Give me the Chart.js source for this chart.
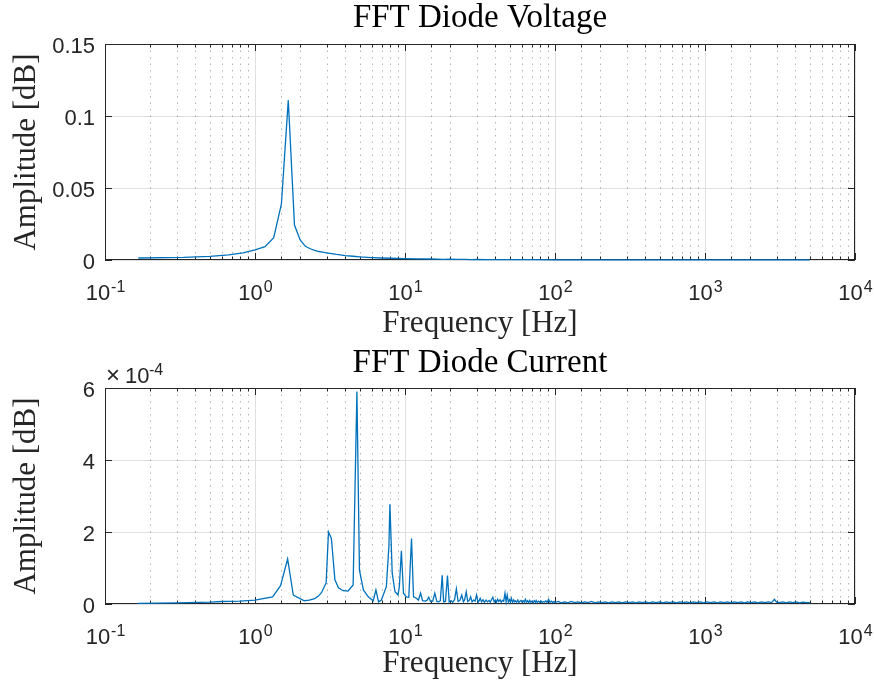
<!DOCTYPE html>
<html>
<head>
<meta charset="utf-8">
<script src="https://cdn.jsdelivr.net/npm/chart.js@4.4.1/dist/chart.umd.min.js"></script>
<style>
  html, body { margin: 0; padding: 0; background: #fff; }
  #wrap { position: relative; width: 874px; height: 687px; }
  canvas { position: absolute; left: 0; }
</style>
</head>
<body>
<div id="wrap">
  <canvas id="chartVoltage" width="874" height="345" style="top:0"></canvas>
  <canvas id="chartCurrent" width="874" height="342" style="top:345px"></canvas>
</div>
<script>
// FFT of the diode voltage (Hz / amplitude)
const freqV = [0.1667, 0.3333, 0.5, 0.6667, 0.8333, 1.0, 1.1667, 1.3333, 1.5, 1.6667,
  1.8333, 2.0, 2.1667, 2.3333, 2.5, 2.6667, 2.8333, 3.0, 3.5, 4.0,
  4.5, 5.0, 6.0, 7.0, 8.0, 10, 12, 15, 18, 20,
  22, 25, 28, 30, 35, 40, 50, 70, 100, 200,
  500, 1000, 2000, 5000];
const ampV = [0.0014, 0.0018, 0.0025, 0.0035, 0.0050, 0.0071, 0.0093, 0.0155, 0.0389, 0.1110,
  0.0243, 0.0139, 0.0095, 0.0078, 0.0067, 0.0059, 0.0054, 0.0050, 0.0039, 0.0031,
  0.0026, 0.0022, 0.0017, 0.0014, 0.0012, 0.0009, 0.0008, 0.0007, 0.0005, 0.0006,
  0.0004, 0.0005, 0.0003, 0.0004, 0.0003, 0.0003, 0.00025, 0.0002, 0.00015, 0.0001,
  0.00007, 0.00005, 0.00004, 0.00003];

// FFT of the diode current, amplitude in units of 1e-4
const freqI = [0.165, 0.30, 0.50, 0.60, 0.79, 1.0, 1.31, 1.48, 1.65, 1.80,
  2.13, 2.30, 2.50, 2.65, 2.78, 2.98, 3.09, 3.23, 3.41, 3.60,
  3.87, 4.17, 4.51, 4.78, 4.97, 5.28, 5.69, 6.14, 6.40, 6.66,
  6.96, 7.51, 7.81, 7.93, 8.22, 8.58, 8.98, 9.17, 9.46, 9.77,
  10.2, 10.6, 11.05, 11.4, 11.9, 12.3, 12.7, 13.1, 13.6, 14.0,
  14.4, 14.8, 15.3, 15.8, 16.3, 16.8, 17.2, 17.7, 18.1, 18.6,
  19.2, 19.7, 20.3, 20.8, 21.4, 22.0, 22.6, 23.2, 23.9, 24.5,
  25.0, 25.6, 26.2, 26.8, 27.4, 28.0, 28.6, 29.3, 30.0, 30.7,
  31.3, 31.7, 32.4, 33.1, 33.8, 34.7, 35.5, 36.3, 37.0, 37.7,
  38.5, 39.3, 40.1, 40.7, 41.4, 42.2, 43.0, 43.8, 44.6, 45.5,
  46.4, 47.2, 48.0, 48.9, 49.8, 50.5, 51.2, 52.1, 53.0, 53.7,
  54.5, 55.5, 56.5, 57.4, 58.4, 59.4, 60.4, 61.4, 62.4, 63.4,
  64.5, 65.6, 66.7, 67.8, 69.0, 70.2, 71.5, 72.8, 74.0, 74.9,
  76.2, 77.5, 79.0, 80.5, 82.0, 83.5, 85.0, 86.8, 88.5, 90.7,
  92.5, 94.5, 96.5, 98.5, 100, 105, 110, 116, 122, 128,
  135, 142, 150, 158, 166, 175, 185, 195, 205, 216,
  228, 240, 253, 266, 280, 295, 311, 328, 345, 364,
  383, 404, 425, 448, 472, 497, 524, 552, 581, 612,
  645, 680, 716, 754, 795, 837, 882, 929, 979, 1030,
  1090, 1150, 1210, 1270, 1340, 1410, 1490, 1570, 1650, 1740,
  1830, 1930, 2030, 2140, 2260, 2380, 2500, 2640, 2780, 2900,
  3000, 3130, 3300, 3470, 3660, 3850, 4060, 4270, 4500, 4750,
  5000];
const ampI = [0.02, 0.03, 0.05, 0.07, 0.08, 0.11, 0.20, 0.51, 1.25, 0.25,
  0.09, 0.11, 0.15, 0.22, 0.32, 0.59, 2.00, 1.82, 0.67, 0.45,
  0.37, 0.36, 0.53, 5.90, 0.94, 0.39, 0.20, 0.09, 0.39, 0.06,
  0.11, 0.48, 1.60, 2.77, 0.85, 0.34, 0.25, 0.48, 1.48, 0.30,
  0.20, 0.19, 1.82, 0.20, 0.16, 0.11, 0.30, 0.09, 0.08, 0.10,
  0.19, 0.07, 0.08, 0.30, 0.07, 0.06, 0.09, 0.80, 0.06, 0.07,
  0.79, 0.06, 0.09, 0.05, 0.12, 0.42, 0.07, 0.10, 0.25, 0.06,
  0.12, 0.34, 0.07, 0.10, 0.20, 0.06, 0.11, 0.08, 0.25, 0.05,
  0.10, 0.16, 0.06, 0.12, 0.05, 0.11, 0.06, 0.10, 0.05, 0.12,
  0.19, 0.06, 0.11, 0.05, 0.13, 0.07, 0.12, 0.05, 0.10, 0.08,
  0.30, 0.06, 0.25, 0.05, 0.12, 0.06, 0.16, 0.05, 0.11, 0.06,
  0.09, 0.05, 0.11, 0.04, 0.08, 0.10, 0.05, 0.09, 0.05, 0.13,
  0.05, 0.09, 0.04, 0.10, 0.05, 0.08, 0.04, 0.09, 0.05, 0.10,
  0.04, 0.08, 0.05, 0.09, 0.04, 0.07, 0.05, 0.09, 0.04, 0.13,
  0.05, 0.08, 0.04, 0.07, 0.04, 0.07, 0.03, 0.06, 0.03, 0.07,
  0.04, 0.06, 0.03, 0.06, 0.04, 0.07, 0.03, 0.06, 0.04, 0.06,
  0.03, 0.06, 0.04, 0.06, 0.03, 0.06, 0.04, 0.06, 0.03, 0.06,
  0.04, 0.06, 0.03, 0.06, 0.04, 0.06, 0.03, 0.06, 0.04, 0.06,
  0.03, 0.06, 0.04, 0.06, 0.03, 0.06, 0.04, 0.06, 0.03, 0.06,
  0.04, 0.06, 0.03, 0.06, 0.04, 0.06, 0.03, 0.06, 0.04, 0.06,
  0.03, 0.06, 0.04, 0.06, 0.03, 0.06, 0.04, 0.06, 0.04, 0.13,
  0.05, 0.04, 0.06, 0.03, 0.06, 0.04, 0.06, 0.03, 0.05, 0.04,
  0.04];

const yTicksV = [0, 0.05, 0.1, 0.15];
const yTicksI = [0, 2, 4, 6];
const xDecades = [-1, 0, 1, 2, 3, 4];

const AXIS = '#262626';
const LINE = '#0072BD';
const serif = "'Liberation Serif', 'DejaVu Serif', serif";
const sans = "'Liberation Sans', Arial, sans-serif";

function isDecade(v) {
  let l = Math.log10(v);
  return Math.abs(l - Math.round(l)) < 1e-6;
}

// matlab style box, inward ticks, dotted minor grid, 10^n labels
const matlabAxes = {
  id: 'matlabAxes',
  beforeDatasetsDraw(chart) {
    let ctx = chart.ctx, a = chart.chartArea, x = chart.scales.x, y = chart.scales.y;
    ctx.save();
    ctx.lineWidth = 1;
    ctx.strokeStyle = 'rgba(38,38,38,0.35)';
    ctx.setLineDash([1.5, 5]);
    x.ticks.forEach(t => {
      if (isDecade(t.value)) return;
      let px = Math.round(x.getPixelForValue(t.value)) + 0.5;
      ctx.beginPath();
      ctx.moveTo(px, a.bottom);
      ctx.lineTo(px, a.top);
      ctx.stroke();
    });
    ctx.setLineDash([]);
    ctx.strokeStyle = AXIS;
    ctx.strokeRect(a.left + 0.5, a.top + 0.5, a.right - a.left - 1, a.bottom - a.top - 1);
    ctx.beginPath();
    x.ticks.forEach(t => {
      let px = Math.round(x.getPixelForValue(t.value)) + 0.5;
      let len = isDecade(t.value) ? 7 : 3.5;
      ctx.moveTo(px, a.bottom); ctx.lineTo(px, a.bottom - len);
      ctx.moveTo(px, a.top); ctx.lineTo(px, a.top + len);
    });
    y.ticks.forEach(t => {
      let py = Math.round(y.getPixelForValue(t.value)) + 0.5;
      ctx.moveTo(a.left, py); ctx.lineTo(a.left + 7, py);
      ctx.moveTo(a.right, py); ctx.lineTo(a.right - 7, py);
    });
    ctx.stroke();
    ctx.restore();
  },
  afterDraw(chart, args, opts) {
    let ctx = chart.ctx, a = chart.chartArea, x = chart.scales.x;
    ctx.save();
    ctx.fillStyle = AXIS;
    ctx.textAlign = 'left';
    ctx.textBaseline = 'alphabetic';
    xDecades.forEach(e => {
      let px = x.getPixelForValue(Math.pow(10, e));
      ctx.font = '22px ' + sans;
      let wb = ctx.measureText('10').width;
      ctx.font = '16px ' + sans;
      let we = ctx.measureText(String(e)).width;
      let x0 = px - (wb + we) / 2;
      ctx.font = '22px ' + sans;
      ctx.fillText('10', x0, a.bottom + 40);
      ctx.font = '16px ' + sans;
      ctx.fillText(String(e), x0 + wb + 1, a.bottom + 32);
    });
    if (opts.exponent) {
      ctx.font = '24px ' + sans;
      ctx.fillText('\u00d7', a.left + 1, a.top - 5);
      ctx.font = '22px ' + sans;
      ctx.fillText('10', a.left + 20, a.top - 5);
      ctx.font = '16px ' + sans;
      ctx.fillText(opts.exponent, a.left + 44, a.top - 13);
    }
    ctx.restore();
  }
};

function makeChart(id, freqs, amps, yTicks, titleText, titlePadBottom, xAxisHeight, xTitlePad, exponent) {
  let ctx = document.getElementById(id).getContext('2d');
  return new Chart(ctx, {
    type: 'line',
    data: {
      datasets: [{
        data: freqs.map((f, i) => ({x: f, y: amps[i]})),
        borderColor: LINE,
        borderWidth: 1.3,
        pointRadius: 0,
        tension: 0,
        fill: false,
        clip: false
      }]
    },
    options: {
      responsive: false,
      animation: false,
      devicePixelRatio: 1,
      layout: { padding: { left: 0, right: 19, top: 0, bottom: 0 } },
      plugins: {
        legend: { display: false },
        tooltip: { enabled: false },
        title: {
          display: true,
          text: titleText,
          fullSize: false,
          color: '#000',
          font: { family: serif, size: 33, weight: 'normal', lineHeight: 1.1 },
          padding: { top: 0, bottom: titlePadBottom }
        },
        matlabAxes: { exponent: exponent }
      },
      scales: {
        x: {
          type: 'logarithmic',
          min: 0.1,
          max: 10000,
          afterFit: s => { s.height = xAxisHeight; },
          ticks: { display: false },
          grid: {
            drawTicks: false,
            color: c => (c.tick && isDecade(c.tick.value)) ? '#dfdfdf' : 'rgba(0,0,0,0)'
          },
          border: { display: false },
          title: {
            display: true,
            text: 'Frequency [Hz]',
            color: AXIS,
            font: { family: serif, size: 31 },
            padding: { top: 0, bottom: xTitlePad }
          }
        },
        y: {
          min: yTicks[0],
          max: yTicks[yTicks.length - 1],
          afterFit: s => { s.width = 105; },
          afterBuildTicks: s => { s.ticks = yTicks.map(v => ({value: v})); },
          ticks: {
            color: AXIS,
            padding: 10,
            labelOffset: 3,
            font: { family: sans, size: 22 },
            callback: v => String(+v.toFixed(2))
          },
          grid: { drawTicks: false, color: '#dfdfdf' },
          border: { display: false },
          title: {
            display: true,
            text: 'Amplitude [dB]',
            color: AXIS,
            font: { family: serif, size: 31 },
            padding: { top: 8, bottom: 0 }
          }
        }
      }
    },
    plugins: [matlabAxes]
  });
}

// title box = 33*1.1 + bottom padding, keeps the plot top at y=44 / y=43
let chart_voltage = makeChart('chartVoltage', freqV, ampV, yTicksV, 'FFT Diode Voltage', 7.7, 85, 3, null);
let chart_current = makeChart('chartCurrent', freqI, ampI, yTicksI, 'FFT Diode Current', 6.7, 83, 5, '-4');
</script>
</body>
</html>
